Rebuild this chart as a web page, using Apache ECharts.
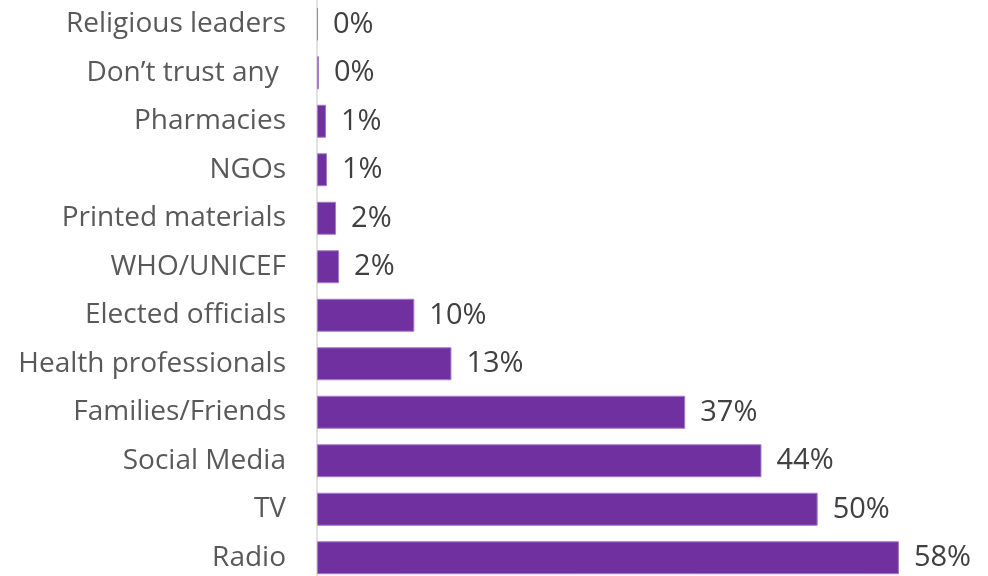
<!DOCTYPE html>
<html>
<head>
<meta charset="utf-8">
<script src="https://cdn.jsdelivr.net/npm/echarts@6/dist/echarts.min.js"></script>
<style>
  html, body { margin: 0; padding: 0; background: #ffffff; }
  #chart { width: 988px; height: 576px; }
</style>
</head>
<body>
<div id="chart"></div>
<script>
// Trusted sources of information, share of respondents (%), top to bottom
const categories = [
  'Religious leaders',
  'Don\u2019t trust any ',
  'Pharmacies',
  'NGOs',
  'Printed materials',
  'WHO/UNICEF',
  'Elected officials',
  'Health professionals',
  'Families/Friends',
  'Social Media',
  'TV',
  'Radio'
];
const shares = [0.1, 0.2, 0.9, 1.0, 1.9, 2.2, 9.7, 13.4, 36.7, 44.3, 49.9, 58.0];

const chart = echarts.init(document.getElementById('chart'), null, { renderer: 'canvas' });

chart.setOption({
  animation: false,
  backgroundColor: '#ffffff',
  grid: {
    left: 317, top: 0, width: 602, height: 582,
    containLabel: false,
    outerBoundsMode: 'none'
  },
  xAxis: {
    type: 'value',
    min: 0,
    max: 60,
    show: false
  },
  yAxis: {
    type: 'category',
    inverse: true,
    data: categories,
    axisLine: { show: true, lineStyle: { color: '#d9d9d9', width: 1.5 } },
    axisTick: { show: false },
    axisLabel: {
      margin: 31,
      color: '#595959',
      fontFamily: '"Open Sans", "Noto Sans", sans-serif',
      fontSize: 28
    }
  },
  series: [{
    type: 'bar',
    data: shares,
    barCategoryGap: '32%',
    itemStyle: {
      color: '#7030a0',
      borderColor: '#a57bc8',
      borderWidth: 1
    },
    label: {
      show: true,
      position: 'right',
      distance: 15,
      color: '#404040',
      fontFamily: '"Open Sans", "Noto Sans", sans-serif',
      fontSize: 29,
      formatter: p => Math.round(p.value) + '%'
    }
  }]
});
</script>
</body>
</html>
